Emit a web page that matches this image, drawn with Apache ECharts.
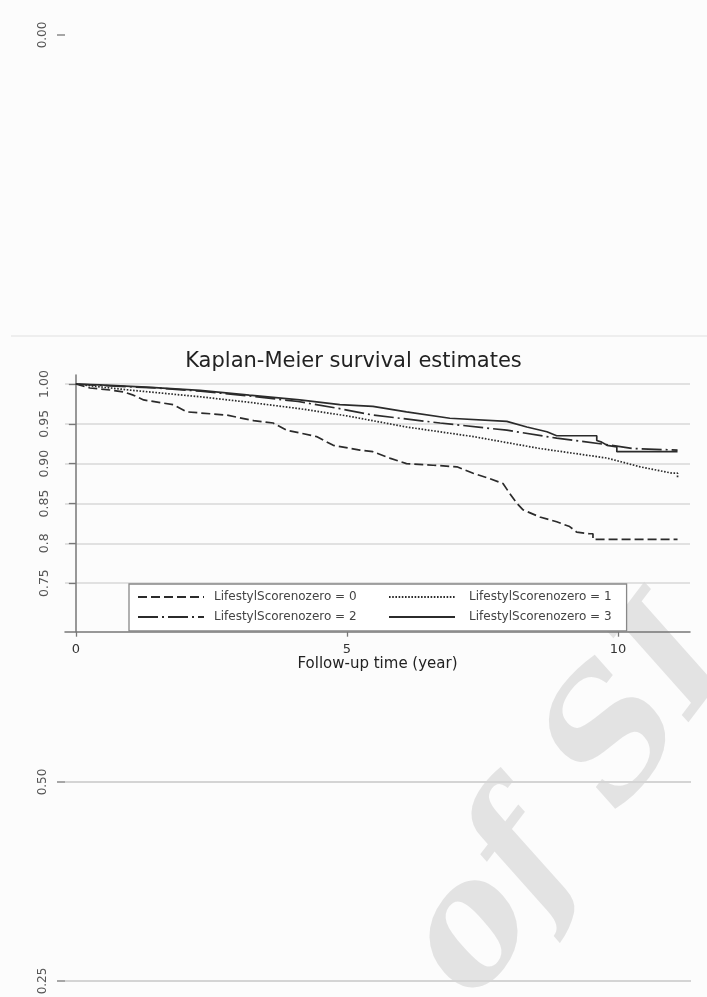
<!DOCTYPE html>
<html>
<head>
<meta charset="utf-8">
<script src="https://cdn.jsdelivr.net/npm/echarts@6/dist/echarts.min.js"></script>
<style>
html,body{margin:0;padding:0;background:#fcfcfc;}
#main{width:707px;height:997px;}
</style>
</head>
<body>
<div id="main"></div>
<script>
// ---- data ----
const seriesNames = ['LifestylScorenozero = 0','LifestylScorenozero = 1','LifestylScorenozero = 2','LifestylScorenozero = 3'];

const years0 = [0, 0.26, 0.63, 0.88, 1.06, 1.25, 1.80, 2.05, 2.78, 3.28, 3.64, 3.89, 4.44, 4.75, 5.24, 5.48, 5.79, 6.10, 6.59, 7.03, 7.33, 7.64, 7.88, 8.00, 8.14, 8.25, 8.56, 8.87, 9.11, 9.24, 9.48, 9.54, 9.54, 11.10];
const surv0  = [1.000, 0.995, 0.9925, 0.990, 0.986, 0.980, 0.974, 0.965, 0.961, 0.954, 0.951, 0.942, 0.934, 0.923, 0.917, 0.915, 0.907, 0.900, 0.898, 0.896, 0.888, 0.881, 0.875, 0.863, 0.850, 0.842, 0.833, 0.827, 0.821, 0.814, 0.812, 0.812, 0.805, 0.805];

const years1 = [0, 0.50, 1.05, 2.29, 3.20, 4.13, 5.00, 6.10, 7.33, 8.56, 9.80, 10.41, 11.00, 11.10, 11.10];
const surv1  = [1.000, 0.996, 0.992, 0.984, 0.977, 0.969, 0.960, 0.946, 0.934, 0.919, 0.907, 0.896, 0.888, 0.888, 0.881];

const years2 = [0, 0.50, 1.50, 2.30, 3.20, 4.10, 4.87, 5.48, 6.72, 7.95, 8.87, 9.67, 10.28, 11.10];
const surv2  = [1.000, 0.998, 0.995, 0.991, 0.985, 0.978, 0.969, 0.961, 0.951, 0.942, 0.932, 0.925, 0.919, 0.917];

const years3 = [0, 0.44, 1.30, 2.29, 3.20, 4.13, 4.87, 5.48, 6.10, 6.90, 7.95, 8.32, 8.69, 8.87, 9.61, 9.61, 9.70, 9.80, 9.98, 9.98, 11.10];
const surv3  = [1.000, 0.999, 0.996, 0.992, 0.986, 0.980, 0.974, 0.972, 0.965, 0.957, 0.953, 0.946, 0.940, 0.935, 0.935, 0.929, 0.927, 0.923, 0.921, 0.915, 0.915];

const yTickValues = [0.75, 0.80, 0.85, 0.90, 0.95, 1.00];
const yTickLabels = ['0.75', '0.8', '0.85', '0.90', '0.95', '1.00'];
const xTickValues = [0, 5, 10];
const bgTickLabels = ['0.00', '0.50', '0.25'];

// ---- build ----
function zip(xs, ys){ return xs.map((x,i)=>[x, ys[i]]); }
const allYears = [years0, years1, years2, years3];
const allSurv = [surv0, surv1, surv2, surv3];
const dashTypes = [[9,4], [1.6,1.6], [20,4,2,4], 'solid'];

const FONT = 'DejaVu Sans';
const lineColor = '#2b2b2b';

const series = seriesNames.map((name, i) => ({
  name: name,
  type: 'line',
  symbol: 'none',
  data: zip(allYears[i], allSurv[i]),
  lineStyle: { color: lineColor, width: 1.7, type: dashTypes[i] },
  itemStyle: { color: lineColor },
  animation: false
}));

const chart = echarts.init(document.getElementById('main'));

// background (outer figure) fragments
const bgY = [35, 782, 981];
const bgGraphics = [];
// watermark
bgGraphics.push({
  type: 'text', x: 276, y: 1057, rotation: 0.92,
  style: { text: 'e of SI', font: 'italic bold 165px "DejaVu Serif"', fill: '#e3e3e3', align: 'left', verticalAlign: 'alphabetic' },
  z: 0
});
bgTickLabels.forEach((t, i) => {
  bgGraphics.push({
    type: 'text', x: 43, y: bgY[i], rotation: Math.PI/2,
    style: { text: t, font: '12px "' + FONT + '"', fill: '#555', align: 'center', verticalAlign: 'middle' },
    z: 1
  });
  bgGraphics.push({
    type: 'line', shape: { x1: 57, y1: bgY[i], x2: 65, y2: bgY[i] },
    style: { stroke: '#777', lineWidth: 1.3 }, z: 1
  });
  if (i > 0) {
    bgGraphics.push({
      type: 'line', shape: { x1: 65, y1: bgY[i], x2: 691, y2: bgY[i] },
      style: { stroke: '#d4d4d4', lineWidth: 2 }, z: 1
    });
  }
});
// faint top edge of the inset
bgGraphics.push({ type: 'line', shape: { x1: 11, y1: 336, x2: 707, y2: 336 }, style: { stroke: '#eeeeee', lineWidth: 2 }, z: 1 });

const option = {
  backgroundColor: '#fcfcfc',
  animation: false,
  title: {
    text: 'Kaplan-Meier survival estimates',
    left: 'center', top: 351, padding: 0,
    textStyle: { fontFamily: FONT, fontSize: 21, fontWeight: 'normal', color: '#222' }
  },
  graphic: bgGraphics,
  grid: { left: 65, right: 17, top: 375, height: 256.7, containLabel: false },
  xAxis: {
    type: 'value', min: -0.2, max: 11.33,
    name: 'Follow-up time (year)', nameLocation: 'middle', nameGap: 25,
    nameTextStyle: { fontFamily: FONT, fontSize: 15, color: '#222' },
    axisLine: { show: true, onZero: false, lineStyle: { color: '#777', width: 1.5 } },
    axisTick: { show: true, length: 5, customValues: xTickValues, lineStyle: { color: '#777', width: 1.3 } },
    axisLabel: { customValues: xTickValues, margin: 11, fontFamily: FONT, fontSize: 13, color: '#333' },
    splitLine: { show: false }
  },
  yAxis: {
    type: 'value', min: 0.689, max: 1.0113,
    axisLine: { show: true, lineStyle: { color: '#777', width: 1.5 } },
    axisTick: { show: true, length: 7, customValues: yTickValues, lineStyle: { color: '#777', width: 1.3 } },
    axisLabel: {
      customValues: yTickValues, rotate: 90, margin: 14,
      fontFamily: FONT, fontSize: 12.5, color: '#555',
      formatter: function (v) {
        const i = yTickValues.findIndex(t => Math.abs(t - v) < 1e-6);
        return i >= 0 ? yTickLabels[i] : '';
      }
    },
    splitLine: { show: true, lineStyle: { color: '#d9d9d9', width: 1.5 } }
  },
  legend: [
    {
      data: [seriesNames[0], seriesNames[2]],
      orient: 'vertical', left: 129, top: 584,
      padding: [7, 270, 8, 8], itemGap: 8, itemWidth: 66, itemHeight: 12,
      borderColor: '#888', borderWidth: 1.3, backgroundColor: '#ffffff',
      itemStyle: { opacity: 0 },
      textStyle: { fontFamily: FONT, fontSize: 12, color: '#444', padding: [0,0,0,5] },
      selectedMode: false
    },
    {
      data: [seriesNames[1], seriesNames[3]],
      orient: 'vertical', left: 388, top: 584,
      padding: [7, 0, 8, 0], itemGap: 8, itemWidth: 66, itemHeight: 12,
      itemStyle: { opacity: 0 },
      textStyle: { fontFamily: FONT, fontSize: 12, color: '#444', padding: [0,0,0,9] },
      selectedMode: false
    }
  ],
  series: series
};
chart.setOption(option);
</script>
</body>
</html>
